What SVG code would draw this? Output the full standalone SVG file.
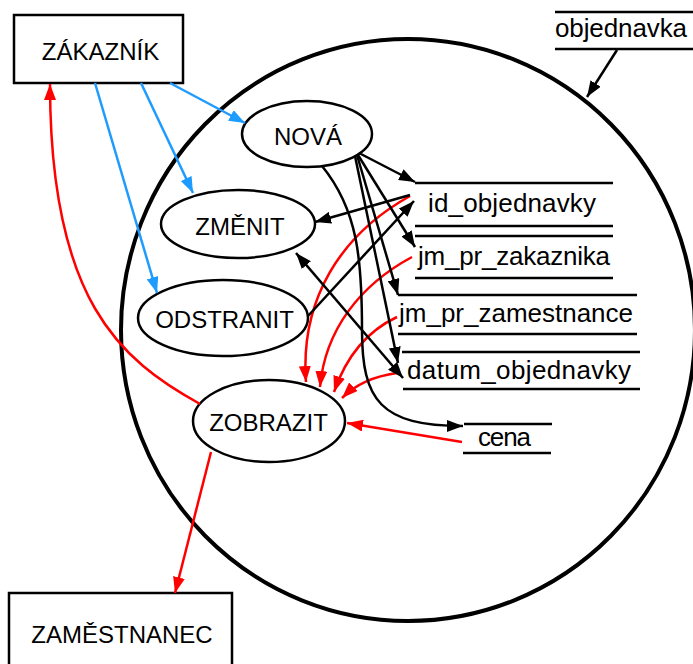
<svg xmlns="http://www.w3.org/2000/svg" width="693" height="664" viewBox="0 0 693 664">
<defs>
<style>
.node{fill:#fff;stroke:#000;stroke-width:2.5}
.big{fill:none;stroke:#000;stroke-width:4}
.t{font-family:"Liberation Sans",Arial,sans-serif;font-size:24px;fill:#000}
.a{font-family:"Liberation Sans",Arial,sans-serif;font-size:26px;fill:#000}
.ln{stroke:#000;stroke-width:2.5}
.k{fill:none;stroke:#000;stroke-width:2.5}
.r{fill:none;stroke:#f00;stroke-width:2.5}
.b{fill:none;stroke:#1e9bff;stroke-width:2.5}
</style>
<marker id="ak" markerUnits="userSpaceOnUse" markerWidth="16" markerHeight="12" refX="16" refY="6" orient="auto-start-reverse"><path d="M0,0 L16,6 L0,12 z" fill="#000"/></marker>
<marker id="ar" markerUnits="userSpaceOnUse" markerWidth="16" markerHeight="12" refX="16" refY="6" orient="auto"><path d="M0,0 L16,6 L0,12 z" fill="#f00"/></marker>
<marker id="ab" markerUnits="userSpaceOnUse" markerWidth="16" markerHeight="12" refX="16" refY="6" orient="auto"><path d="M0,0 L16,6 L0,12 z" fill="#1e9bff"/></marker>
</defs>
<rect width="693" height="664" fill="#fff"/>
<g id="objednavka-scope">
<ellipse class="big" cx="408" cy="330" rx="287" ry="291"/>
</g>
<g id="zakaznik"><rect class="node" x="14" y="15" width="169" height="68"/><text class="t" x="100.5" y="60" text-anchor="middle">ZÁKAZNÍK</text></g>
<g id="zamestnanec"><rect class="node" x="9" y="593" width="223" height="85"/><text class="t" x="122" y="643" text-anchor="middle">ZAMĚSTNANEC</text></g>
<g id="nova"><ellipse class="node" cx="307" cy="134" rx="65" ry="33"/><text class="t" x="308" y="145" text-anchor="middle">NOVÁ</text></g>
<g id="zmenit"><ellipse class="node" cx="238" cy="224" rx="77" ry="34"/><text class="t" x="240" y="235" text-anchor="middle">ZMĚNIT</text></g>
<g id="odstranit"><ellipse class="node" cx="223" cy="318" rx="85" ry="38"/><text class="t" x="224.5" y="328" text-anchor="middle">ODSTRANIT</text></g>
<g id="zobrazit"><ellipse class="node" cx="269" cy="421" rx="76" ry="41"/><text class="t" x="268.5" y="431" text-anchor="middle">ZOBRAZIT</text></g>
<g id="objednavka"><line class="ln" x1="555" y1="12" x2="693" y2="12"/><line class="ln" x1="555" y1="49" x2="693" y2="49"/><text class="a" x="555" y="37" textLength="132">objednavka</text></g>
<g id="id_objednavky"><line class="ln" x1="415" y1="183" x2="613" y2="183"/><line class="ln" x1="415" y1="226" x2="613" y2="226"/><text class="a" x="428" y="212" textLength="168">id_objednavky</text></g>
<g id="jm_pr_zakaznika"><line class="ln" x1="415" y1="236" x2="613" y2="236"/><line class="ln" x1="415" y1="278" x2="613" y2="278"/><text class="a" x="418" y="265" textLength="192">jm_pr_zakaznika</text></g>
<g id="jm_pr_zamestnance"><line class="ln" x1="398" y1="295" x2="637" y2="295"/><line class="ln" x1="398" y1="334" x2="637" y2="334"/><text class="a" x="399" y="322" textLength="234">jm_pr_zamestnance</text></g>
<g id="datum_objednavky"><line class="ln" x1="402" y1="352" x2="640" y2="352"/><line class="ln" x1="403" y1="389" x2="640" y2="389"/><text class="a" x="407" y="379" textLength="224">datum_objednavky</text></g>
<g id="cena"><line class="ln" x1="464" y1="424" x2="552" y2="424"/><line class="ln" x1="463" y1="453" x2="551" y2="453"/><text class="a" x="478" y="446" textLength="53">cena</text></g>
<g id="connectors">
<line class="b" x1="170" y1="83" x2="245" y2="123" marker-end="url(#ab)"/>
<line class="b" x1="141" y1="83" x2="193" y2="193" marker-end="url(#ab)"/>
<line class="b" x1="95" y1="83" x2="157" y2="293" marker-end="url(#ab)"/>
<path class="r" d="M200,404 C120,360 50,300 50,84" marker-end="url(#ar)"/>
<line class="r" x1="211" y1="452" x2="175" y2="593" marker-end="url(#ar)"/>
<path class="r" d="M410,196 C340,235 300,300 306,382" marker-end="url(#ar)"/>
<path class="r" d="M412,257 C360,285 325,330 320,387" marker-end="url(#ar)"/>
<path class="r" d="M397,317 C365,332 345,360 334,392" marker-end="url(#ar)"/>
<path class="r" d="M397,373 C375,376 355,385 342,398" marker-end="url(#ar)"/>
<line class="r" x1="462" y1="442" x2="347" y2="423" marker-end="url(#ar)"/>
<line class="k" x1="359" y1="153" x2="415" y2="182" marker-end="url(#ak)"/>
<line class="k" x1="358" y1="155" x2="415" y2="247" marker-end="url(#ak)"/>
<line class="k" x1="357" y1="155" x2="398" y2="295" marker-end="url(#ak)"/>
<line class="k" x1="355" y1="156" x2="398" y2="363" marker-end="url(#ak)"/>
<path class="k" d="M322,166 C358,210 362,260 362,330 C362,400 380,426 463,426" marker-end="url(#ak)"/>
<line class="k" x1="410" y1="195" x2="315" y2="222" marker-end="url(#ak)"/>
<line class="k" x1="308" y1="316" x2="414" y2="201" marker-end="url(#ak)"/>
<line class="k" x1="296" y1="253" x2="403" y2="378" marker-start="url(#ak)" marker-end="url(#ak)"/>
<line class="k" x1="617" y1="50" x2="587" y2="97" marker-end="url(#ak)"/>
</g>
</svg>
